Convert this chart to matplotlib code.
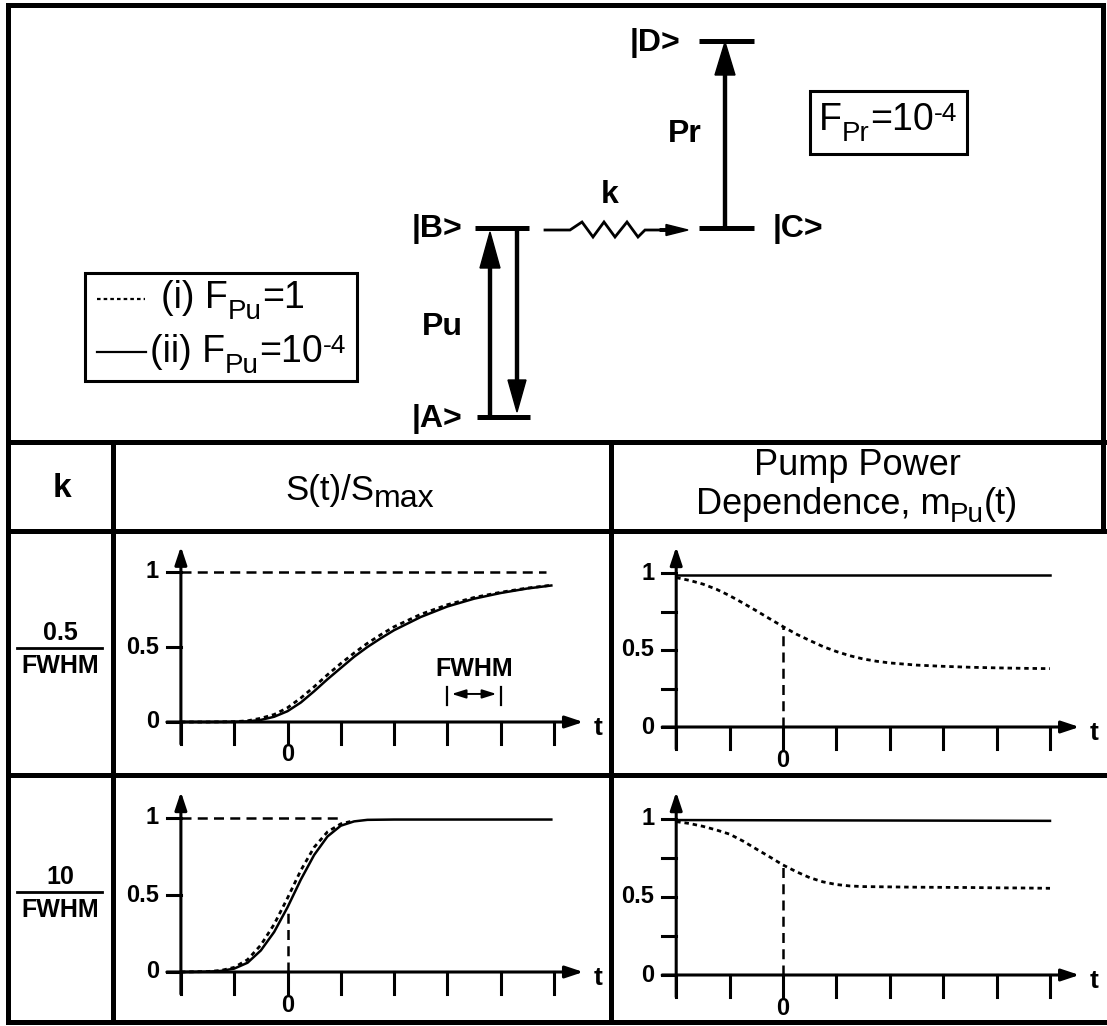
import matplotlib
matplotlib.use('Agg')
import matplotlib.pyplot as plt
from matplotlib.patches import FancyArrow, Rectangle

plt.rcParams['font.family'] = ['Liberation Sans', 'DejaVu Sans']

# ---- values ----
# time axis in units of the pump FWHM
x_ticks = [-2, -1, 0, 1, 2, 3, 4, 5]
y_ticks_s = [0, 0.5, 1]
y_ticks_pump = [0, 0.5, 1]
y_minor_pump = [0.25, 0.75]

# k = 0.5/FWHM, signal rise S(t)/Smax
t_s1 = [-2.0, -1.5, -1.0, -0.75, -0.5, -0.25, 0.0, 0.25, 0.5, 0.75, 1.0, 1.25,
        1.5, 1.75, 2.0, 2.5, 3.0, 3.5, 4.0, 4.5, 4.95]
s1_ii = [0, 0, 0.001, 0.004, 0.014, 0.035, 0.072, 0.13, 0.205, 0.285, 0.36, 0.435,
         0.50, 0.558, 0.612, 0.70, 0.77, 0.822, 0.86, 0.89, 0.91]
s1_i = [0, 0, 0.002, 0.008, 0.025, 0.05, 0.095, 0.16, 0.235, 0.315, 0.39, 0.46,
        0.525, 0.582, 0.635, 0.718, 0.782, 0.83, 0.865, 0.893, 0.912]
s1_ref_end = 4.85

# k = 10/FWHM
t_s2 = [-2.0, -1.5, -1.25, -1.0, -0.75, -0.5, -0.25, 0.0, 0.25, 0.5, 0.75, 1.0,
        1.25, 1.5, 2.0, 3.0, 4.0, 4.95]
s2_ii = [0, 0.002, 0.007, 0.022, 0.06, 0.14, 0.26, 0.42, 0.60, 0.76, 0.88, 0.95,
         0.978, 0.988, 0.99, 0.99, 0.99, 0.99]
t_s2_i = [-2.0, -1.5, -1.25, -1.0, -0.75, -0.5, -0.25, 0.0, 0.25, 0.5, 0.75, 1.0, 1.25]
s2_i = [0, 0.003, 0.01, 0.03, 0.08, 0.175, 0.31, 0.48, 0.66, 0.81, 0.91, 0.962, 0.983]
s2_ref_end = 1.0

# pump power dependence m_Pu(t)
t_p = [-2.0, -1.75, -1.5, -1.25, -1.0, -0.75, -0.5, -0.25, 0.0, 0.25, 0.5, 0.75,
       1.0, 1.25, 1.5, 1.75, 2.0, 2.5, 3.0, 3.5, 4.0, 4.5, 5.0]
p1_i = [0.97, 0.952, 0.928, 0.895, 0.853, 0.805, 0.755, 0.703, 0.652, 0.603, 0.562,
        0.522, 0.49, 0.463, 0.442, 0.427, 0.416, 0.402, 0.394, 0.388, 0.384, 0.381, 0.379]
p2_i = [0.98, 0.968, 0.95, 0.927, 0.90, 0.856, 0.805, 0.755, 0.703, 0.66, 0.622,
        0.595, 0.578, 0.569, 0.565, 0.564, 0.563, 0.561, 0.56, 0.559, 0.557, 0.556, 0.554]
t_p_ii = [-2.0, 5.0]
p1_ii = [0.985, 0.985]
p2_ii = [0.99, 0.985]

fwhm_span = [3.0, 4.0]

# ---- figure ----
W, H = 1107, 1026
fig = plt.figure(figsize=(W / 100, H / 100), dpi=100)
bg = fig.add_axes([0, 0, 1, 1])
bg.set_xlim(0, W)
bg.set_ylim(H, 0)
bg.axis('off')
renderer = fig.canvas.get_renderer()


def rich(x, y, pieces, ha='center'):
    # pieces: (text, fontsize, baseline shift in px, weight)
    objs = []
    total = 0
    for s, fs, dy, wt in pieces:
        t = bg.text(0, y + dy, s, fontsize=fs, fontweight=wt, ha='left', va='baseline')
        w = t.get_window_extent(renderer).width
        objs.append((t, w))
        total += w
    x0 = x - total / 2 if ha == 'center' else x
    for t, w in objs:
        t.set_x(x0)
        x0 += w


TLW = 3.6
def hline(y, x0, x1, lw=TLW):
    bg.plot([x0, x1], [y, y], color='k', lw=lw, solid_capstyle='projecting')

def vline(x, y0, y1, lw=TLW):
    bg.plot([x, x], [y0, y1], color='k', lw=lw, solid_capstyle='projecting')

# table frame
hline(5, 8, 1103)
hline(442, 8, 1107)
hline(531, 8, 1107)
hline(775, 8, 1107)
hline(1022, 8, 1107)
vline(8, 5, 1022)
vline(113, 442, 1022)
vline(611, 442, 1022)
vline(1103, 5, 531)

# header row
bg.text(62, 497, 'k', fontsize=24, fontweight='bold', ha='center', va='baseline')
rich(360, 500, [('S(t)/S', 25, 0, 'normal'), ('max', 23, 7, 'normal')])
bg.text(857, 475, 'Pump Power', fontsize=26, ha='center', va='baseline')
rich(857, 514, [('Dependence, m', 26, 0, 'normal'), ('Pu', 20, 8, 'normal'),
                ('(t)', 26, 0, 'normal')])

# row labels (k values)
for num, yc in [('0.5', 648), ('10', 892)]:
    bg.text(60, yc - 15, num, fontsize=18, fontweight='bold', ha='center', va='center')
    bg.plot([17, 102], [yc, yc], color='k', lw=2)
    bg.text(60, yc + 18, 'FWHM', fontsize=18, fontweight='bold', ha='center', va='center')

# ---- level diagram ----
LLW = 3.6
for (x0, x1, y) in [(699, 754, 41), (475, 529, 228), (699, 754, 228), (477, 530, 417)]:
    bg.plot([x0, x1], [y, y], color='k', lw=LLW, solid_capstyle='butt')

bg.add_patch(FancyArrow(725, 228, 0, -186, width=3, head_width=20, head_length=33,
                        length_includes_head=True, color='k'))
bg.add_patch(FancyArrow(490, 417, 0, -185, width=3, head_width=20, head_length=36,
                        length_includes_head=True, color='k'))
bg.add_patch(FancyArrow(517, 229, 0, 183, width=3, head_width=18, head_length=32,
                        length_includes_head=True, color='k'))

zx = [545, 570, 582, 593, 604, 615, 627, 638, 645, 670]
zy = [230, 230, 222, 237, 222, 237, 222, 237, 230, 230]
bg.plot(zx, zy, color='k', lw=2, solid_joinstyle='miter')
bg.add_patch(FancyArrow(660, 230, 28, 0, width=2.5, head_width=11, head_length=22,
                        length_includes_head=True, color='k'))

lab = dict(fontsize=23, fontweight='bold', va='baseline')
bg.text(680, 51, '|D>', ha='right', **lab)
bg.text(462, 237, '|B>', ha='right', **lab)
bg.text(773, 237, '|C>', ha='left', **lab)
bg.text(462, 427, '|A>', ha='right', **lab)
bg.text(685, 142, 'Pr', ha='center', **lab)
bg.text(610, 203, 'k', ha='center', **lab)
bg.text(442, 335, 'Pu', ha='center', **lab)

bg.add_patch(Rectangle((810, 91), 157, 63, fill=False, lw=2.2, ec='k'))
rich(888, 130, [('F', 27, 0, 'normal'), ('Pr', 20, 11, 'normal'),
                ('=10', 27, 0, 'normal'), ('-4', 19, -9, 'normal')])

bg.add_patch(Rectangle((85, 273), 272, 108, fill=False, lw=2.2, ec='k'))
bg.plot([97, 145], [299, 299], color='k', lw=1.6, ls=(0, (1.6, 1.4)))
rich(161, 308, [('(i) F', 27, 0, 'normal'), ('Pu', 20, 11, 'normal'),
                ('=1', 27, 0, 'normal')], ha='left')
bg.plot([97, 146], [352, 352], color='k', lw=1.6)
rich(150, 362, [('(ii) F', 27, 0, 'normal'), ('Pu', 20, 11, 'normal'),
                ('=10', 27, 0, 'normal'), ('-4', 19, -9, 'normal')], ha='left')

# ---- plot panels ----
def panel(t0, ux, y0, uy, xa=-3.2, xb=6.3, ya=-0.45, yb=1.35):
    left = t0 + xa * ux
    right = t0 + xb * ux
    bottom = y0 - ya * uy
    top = y0 - yb * uy
    ax = fig.add_axes([left / W, 1 - bottom / H, (right - left) / W, (bottom - top) / H])
    ax.set_xlim(xa, xb)
    ax.set_ylim(ya, yb)
    ax.axis('off')
    return ax

ALW = 2.2
def draw_axes(ax, ux, uy, yticks, yminor=()):
    arr = dict(arrowstyle='-|>,head_length=0.9,head_width=0.3', lw=ALW, color='k',
               mutation_scale=12, shrinkA=0, shrinkB=0)
    ax.annotate('', xy=(5.55, 0), xytext=(-2 - 14 / ux, 0), arrowprops=arr)
    ax.annotate('', xy=(-2, 1.17), xytext=(-2, -22 / uy), arrowprops=arr)
    for t in x_ticks:
        ax.plot([t, t], [0, -22 / uy], color='k', lw=ALW)
    for v in list(yticks) + list(yminor):
        ax.plot([-2 - 14 / ux, -2], [v, v], color='k', lw=ALW)
    for v in yticks:
        ax.text(-2 - 22 / ux, v, '%g' % v, fontsize=17, fontweight='bold',
                ha='right', va='center')
    ax.text(0, -0.215, '0', fontsize=17, fontweight='bold', ha='center', va='center')
    ax.text(5.83, -0.04, 't', fontsize=19, fontweight='bold', ha='center', va='center')

SOLID = dict(color='k', lw=1.8)
DOTS = dict(color='k', lw=2.0, ls=(0, (1.6, 1.4)))
DASH = dict(color='k', lw=1.8, ls=(0, (4, 2.5)))

# row 1, S(t)
ax = panel(287.5, 53.3, 722, 150)
draw_axes(ax, 53.3, 150, y_ticks_s)
ax.plot([-2, s1_ref_end], [1, 1], **DASH)
ax.plot(t_s1, s1_ii, **SOLID)
ax.plot(t_s1, s1_i, **DOTS)
ax.text(sum(fwhm_span) / 2, 0.353, 'FWHM', fontsize=18, fontweight='bold',
        ha='center', va='center')
for t in fwhm_span:
    ax.plot([t, t], [0.113, 0.233], color='k', lw=1.6)
ax.annotate('', xy=(fwhm_span[1] - 0.08, 0.187), xytext=(fwhm_span[0] + 0.08, 0.187),
            arrowprops=dict(arrowstyle='<|-|>,head_length=0.7,head_width=0.22', lw=1.4,
                            color='k', mutation_scale=12, shrinkA=0, shrinkB=0))

# row 1, pump dependence
ax = panel(783, 53.4, 727, 154)
draw_axes(ax, 53.4, 154, y_ticks_pump, y_minor_pump)
ax.plot(t_p_ii, p1_ii, **SOLID)
ax.plot(t_p, p1_i, **DOTS)
ax.plot([0, 0], [0, p1_i[t_p.index(0.0)]], **DASH)

# row 2, S(t)
ax = panel(287.5, 53.3, 972, 154)
draw_axes(ax, 53.3, 154, y_ticks_s)
ax.plot([-2, s2_ref_end], [1, 1], **DASH)
ax.plot([0, 0], [0, s2_ii[t_s2.index(0.0)]], **DASH)
ax.plot(t_s2, s2_ii, **SOLID)
ax.plot(t_s2_i, s2_i, **DOTS)

# row 2, pump dependence
ax = panel(783, 53.4, 975, 156.5)
draw_axes(ax, 53.4, 156.5, y_ticks_pump, y_minor_pump)
ax.plot(t_p_ii, p2_ii, **SOLID)
ax.plot(t_p, p2_i, **DOTS)
ax.plot([0, 0], [0, p2_i[t_p.index(0.0)]], **DASH)

fig.savefig('out.png', dpi=100)
